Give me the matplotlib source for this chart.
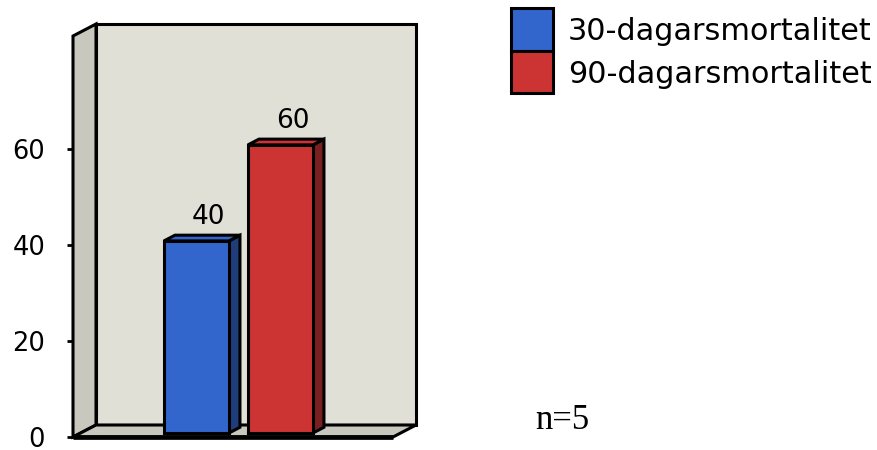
import matplotlib
matplotlib.use("Agg")
import matplotlib.pyplot as plt
from matplotlib.patches import Polygon, Rectangle

# ---------------- data ----------------
series = ["30-dagarsmortalitet", "90-dagarsmortalitet"]
values = [40, 60]
face_colors = ["#3366CC", "#CC3333"]
side_colors = ["#1F3D7A", "#7A1F1F"]
yticks = [0, 20, 40, 60]
note = "n=5"

# ---------------- layout ----------------
W, H, DPI = 877, 450, 100
DX, DY = 23, 12          # depth of the box, pixels
Z0, Z1 = 0.33, 0.81      # bar front / back depth fraction
XLIM = (-1.379, 2.431)
YLIM = (0, 83.5)
BAR_W = 0.774
WALL = "#E0E0D6"
SIDE = "#C8C8BE"
LW = 2.2

fig = plt.figure(figsize=(W / DPI, H / DPI), dpi=DPI, facecolor="white")
ax = fig.add_axes([73 / W, 13 / H, 320 / W, 401 / H])
ax.set_xlim(*XLIM)
ax.set_ylim(*YLIM)
for s in ax.spines.values():
    s.set_visible(False)
ax.set_facecolor("none")
ax.set_xticks([])
ax.set_yticks(yticks)
ax.tick_params(axis="y", length=4, width=2, pad=16, labelsize=18.5, colors="black")

px_x = 320 / (XLIM[1] - XLIM[0])
px_y = 401 / (YLIM[1] - YLIM[0])


def P(x, y, z):
    # project a point at depth z (0 front, 1 back) into data coords
    return (x + z * DX / px_x, y + z * DY / px_y)


def poly(pts, fc, lw=LW, zorder=1):
    ax.add_patch(Polygon([P(*p) for p in pts], closed=True, facecolor=fc,
                         edgecolor="black", linewidth=lw, clip_on=False,
                         joinstyle="miter", zorder=zorder))


x0, x1 = XLIM
y0, y1 = YLIM

# back wall
poly([(x0, y0, 1), (x1, y0, 1), (x1, y1, 1), (x0, y1, 1)], WALL, zorder=1)
# left wall
poly([(x0, y0, 0), (x0, y0, 1), (x0, y1, 1), (x0, y1, 0)], SIDE, zorder=2)
# floor
poly([(x0, y0, 0), (x1, y0, 0), (x1, y0, 1), (x0, y0, 1)], SIDE, zorder=2)
# thick front bottom edge
ax.plot([x0, x1], [0, 0], color="black", lw=3.4, clip_on=False, zorder=6,
        solid_capstyle="butt")

# bars
for i, (v, fc, sc) in enumerate(zip(values, face_colors, side_colors)):
    l, r = i - BAR_W / 2, i + BAR_W / 2
    poly([(r, 0, Z0), (r, 0, Z1), (r, v, Z1), (r, v, Z0)], sc, zorder=3)
    poly([(l, v, Z0), (r, v, Z0), (r, v, Z1), (l, v, Z1)], fc, zorder=3)
    poly([(l, 0, Z0), (r, 0, Z0), (r, v, Z0), (l, v, Z0)], fc, zorder=4)
    ax.annotate(str(v), xy=P(i, v, Z0), xytext=(9, 12.5),
                textcoords="offset points", ha="center", va="baseline",
                fontsize=19, color="black", annotation_clip=False, zorder=5)

# legend
for k, (lab, fc) in enumerate(zip(series, face_colors)):
    top = 8 + k * 42.5
    fig.patches.append(Rectangle((511 / W, 1 - (top + 42.5) / H), 42 / W, 42.5 / H,
                                 transform=fig.transFigure, facecolor=fc,
                                 edgecolor="black", linewidth=LW))
    fig.text(568 / W, 1 - (40 + k * 43) / H, lab, fontsize=21.8,
             ha="left", va="baseline", color="black")

fig.text(535 / W, 1 - 429 / H, note, fontsize=25, family="Liberation Serif",
         ha="left", va="baseline", color="black")

fig.savefig("out.png", dpi=DPI, facecolor="white")
